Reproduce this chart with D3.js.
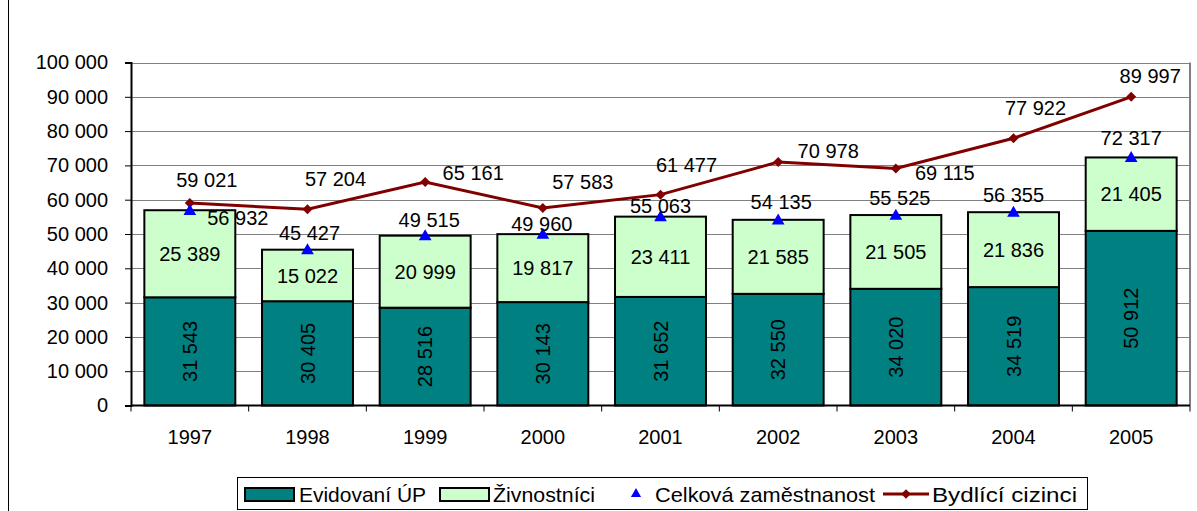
<!DOCTYPE html>
<html>
<head>
<meta charset="utf-8">
<script src="https://cdn.jsdelivr.net/npm/d3@7"></script>
<style>
  body { margin: 0; background: #fff; }
  svg text { font-family: "Liberation Sans", Arial, sans-serif; fill: #000; }
</style>
</head>
<body>
<svg width="1197" height="511"></svg>
<script>
// data
var years = ["1997", "1998", "1999", "2000", "2001", "2002", "2003", "2004", "2005"];
var evidovani = [31543, 30405, 28516, 30143, 31652, 32550, 34020, 34519, 50912];
var zivnostnici = [25389, 15022, 20999, 19817, 23411, 21585, 21505, 21836, 21405];
var celkova = [56932, 45427, 49515, 49960, 55063, 54135, 55525, 56355, 72317];
var bydlici = [59021, 57204, 65161, 57583, 61477, 70978, 69115, 77922, 89997];
var yTicks = [0, 10000, 20000, 30000, 40000, 50000, 60000, 70000, 80000, 90000, 100000];
var legendNames = ["Evidovaní ÚP", "Živnostníci", "Celková zaměstnanost", "Bydlící cizinci"];

// label nudges (hand placed in the original, px relative to marker)
var lineLabelNudge = [[17, -23], [28, -30], [48, -9], [40, -26], [26, -30], [50, -11], [49, 4], [22, -30], [19, -21]];
var triLabelNudge = [[48, 8], [2, -17], [4, -16], [-1, -10], [0, -11], [3, -18], [4, -17], [0, -17], [0, -20]];

var teal = "#008080", light = "#CCFFCC", dark = "#800000", blue = "#0000FF";

var fmt = d3.formatLocale({ decimal: ",", thousands: " ", grouping: [3], currency: ["", ""] }).format(",");

var svg = d3.select("svg");
var plotL = 131, plotR = 1190, plotT = 62.5, plotB = 405.5;

var x = d3.scaleBand().domain(years).range([plotL, plotR]).paddingInner(0.227).paddingOuter(0.1135);
var y = d3.scaleLinear().domain([0, 100000]).range([plotB, plotT]);

// outer chart border (left edge visible)
svg.append("line").attr("x1", 8.5).attr("x2", 8.5).attr("y1", 0).attr("y2", 511)
  .attr("stroke", "#000").attr("stroke-width", 1);

// grid
svg.append("g").selectAll("line").data(yTicks.slice(1)).enter().append("line")
  .attr("x1", plotL).attr("x2", plotR)
  .attr("y1", function(d) { return Math.round(y(d)) + 0.5; })
  .attr("y2", function(d) { return Math.round(y(d)) + 0.5; })
  .attr("stroke", "#808080").attr("stroke-width", 1);

// plot border right
svg.append("line").attr("x1", plotR).attr("x2", plotR).attr("y1", plotT).attr("y2", plotB)
  .attr("stroke", "#808080").attr("stroke-width", 2);

// y axis
var yAxis = svg.append("g").attr("transform", "translate(" + plotL + ",0)")
  .call(d3.axisLeft(y).tickValues(yTicks).tickFormat(fmt).tickSize(6).tickPadding(17));
yAxis.select(".domain").attr("stroke", "#000").attr("stroke-width", 2);
yAxis.selectAll(".tick line").attr("stroke", "#000");
yAxis.selectAll("text").style("font-size", "20px").attr("font-family", null);

// stacked bars
var stack = d3.stack().keys(["ev", "zi"])(years.map(function(yr, i) {
  return { year: yr, ev: evidovani[i], zi: zivnostnici[i] };
}));
var colors = [teal, light];

var layers = svg.append("g").selectAll("g").data(stack).enter().append("g")
  .attr("fill", function(d, i) { return colors[i]; });
layers.selectAll("rect").data(function(d) { return d; }).enter().append("rect")
  .attr("x", function(d) { return x(d.data.year); })
  .attr("y", function(d) { return y(d[1]); })
  .attr("width", x.bandwidth())
  .attr("height", function(d) { return y(d[0]) - y(d[1]); })
  .attr("stroke", "#000").attr("stroke-width", 2);

// x axis
svg.append("line").attr("x1", plotL).attr("x2", plotR).attr("y1", plotB).attr("y2", plotB)
  .attr("stroke", "#000").attr("stroke-width", 2);
svg.append("g").selectAll("line").data(d3.range(years.length + 1)).enter().append("line")
  .attr("x1", function(i) { return plotL + i * x.step(); })
  .attr("x2", function(i) { return plotL + i * x.step(); })
  .attr("y1", plotB).attr("y2", plotB + 6)
  .attr("stroke", "#000").attr("stroke-width", 1);
svg.append("g").selectAll("text").data(years).enter().append("text")
  .attr("x", function(d) { return x(d) + x.bandwidth() / 2; })
  .attr("y", 444)
  .attr("text-anchor", "middle").style("font-size", "20px")
  .text(function(d) { return d; });

// bar labels
svg.append("g").selectAll("text").data(stack[1]).enter().append("text")
  .attr("x", function(d) { return x(d.data.year) + x.bandwidth() / 2; })
  .attr("y", function(d) { return (y(d[0]) + y(d[1])) / 2; })
  .attr("dy", "0.36em").attr("text-anchor", "middle").style("font-size", "20px")
  .text(function(d) { return fmt(d.data.zi); });
svg.append("g").selectAll("text").data(stack[0]).enter().append("text")
  .attr("transform", function(d) {
    return "translate(" + (x(d.data.year) + x.bandwidth() / 2) + "," + (y(d[0]) + y(d[1])) / 2 + ") rotate(-90)";
  })
  .attr("dy", "0.36em").attr("text-anchor", "middle").style("font-size", "20px")
  .text(function(d) { return fmt(d.data.ev); });

// line series
var cx = function(i) { return x(years[i]) + x.bandwidth() / 2; };
var line = d3.line().x(function(d, i) { return cx(i); }).y(function(d) { return y(d); });
svg.append("path").datum(bydlici).attr("d", line)
  .attr("fill", "none").attr("stroke", dark).attr("stroke-width", 3);
var diamond = d3.symbol().type(d3.symbolSquare).size(50);
svg.append("g").selectAll("path").data(bydlici).enter().append("path")
  .attr("d", diamond)
  .attr("transform", function(d, i) { return "translate(" + cx(i) + "," + y(d) + ") rotate(45)"; })
  .attr("fill", dark);

// triangles
var tri = d3.symbol().type(d3.symbolTriangle).size(70);
svg.append("g").selectAll("path").data(celkova).enter().append("path")
  .attr("d", tri)
  .attr("transform", function(d, i) { return "translate(" + cx(i) + "," + (y(d) + 1) + ")"; })
  .attr("fill", blue);

// point labels
svg.append("g").selectAll("text").data(celkova).enter().append("text")
  .attr("x", function(d, i) { return cx(i) + triLabelNudge[i][0]; })
  .attr("y", function(d, i) { return y(d) + triLabelNudge[i][1]; })
  .attr("dy", "0.36em").attr("text-anchor", "middle").style("font-size", "20px")
  .text(function(d) { return fmt(d); });
svg.append("g").selectAll("text").data(bydlici).enter().append("text")
  .attr("x", function(d, i) { return cx(i) + lineLabelNudge[i][0]; })
  .attr("y", function(d, i) { return y(d) + lineLabelNudge[i][1]; })
  .attr("dy", "0.36em").attr("text-anchor", "middle").style("font-size", "20px")
  .text(function(d) { return fmt(d); });

// legend
var lg = svg.append("g");
lg.append("rect").attr("x", 237.5).attr("y", 477.5).attr("width", 850).attr("height", 32)
  .attr("fill", "#fff").attr("stroke", "#000").attr("stroke-width", 1);
var ly = 494;
lg.append("rect").attr("x", 245).attr("y", ly - 6).attr("width", 49).attr("height", 13)
  .attr("fill", teal).attr("stroke", "#000").attr("stroke-width", 2);
lg.append("rect").attr("x", 440).attr("y", ly - 6).attr("width", 49).attr("height", 13)
  .attr("fill", light).attr("stroke", "#000").attr("stroke-width", 2);
lg.append("path").attr("d", d3.symbol().type(d3.symbolTriangle).size(45))
  .attr("transform", "translate(636," + ly + ")").attr("fill", blue);
lg.append("line").attr("x1", 883).attr("x2", 929).attr("y1", ly).attr("y2", ly)
  .attr("stroke", dark).attr("stroke-width", 3);
lg.append("path").attr("d", d3.symbol().type(d3.symbolSquare).size(45))
  .attr("transform", "translate(906," + ly + ") rotate(45)").attr("fill", dark);
var lx = [299, 493, 655, 932];
var lw = [127, 102, 220, 145];
lg.selectAll("text").data(legendNames).enter().append("text")
  .attr("x", function(d, i) { return lx[i]; })
  .attr("y", ly).attr("dy", "0.36em").style("font-size", "21px")
  .attr("textLength", function(d, i) { return lw[i]; })
  .attr("lengthAdjust", "spacingAndGlyphs")
  .text(function(d) { return d; });
</script>
</body>
</html>
